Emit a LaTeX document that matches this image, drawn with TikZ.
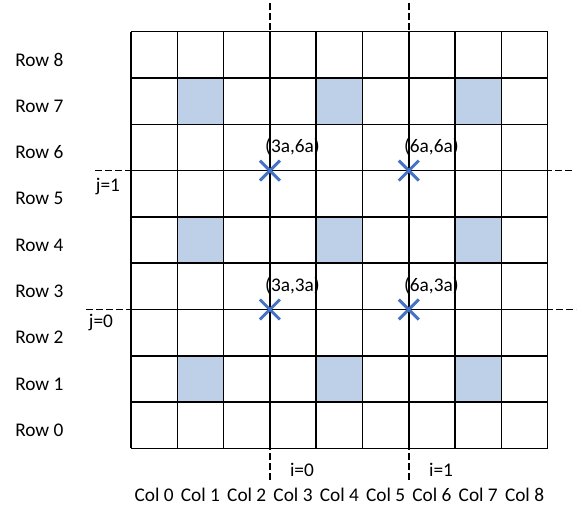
\documentclass[tikz,border=0pt]{standalone}
\usepackage{fontspec}
\setmainfont{Carlito}
\definecolor{cellblue}{RGB}{189,208,231}
\definecolor{xblue}{RGB}{68,114,196}
\begin{document}
\begin{tikzpicture}[x=0.75pt,y=-0.75pt,
  lbl/.style={font=\fontsize{14.5}{16}\selectfont, inner sep=0pt},
  gridline/.style={line width=1.1pt, black},
  dashline/.style={line width=1.1pt, black, dash pattern=on 5pt off 2.5pt},
  cross/.style={line width=2.2pt, xblue}]
\useasboundingbox (0,0) rectangle (582,508);
\def\gx{131}\def\gy{31.7}\def\cs{46.3}
% shaded cells
\foreach \c in {1,4,7}{\foreach \r in {7,4,1}{
  \fill[cellblue] (\gx+\c*\cs,\gy+8*\cs-\r*\cs) rectangle ++(\cs,\cs);}}
% grid
\foreach \i in {0,...,9}{
  \draw[gridline] (\gx+\i*\cs,\gy) -- (\gx+\i*\cs,\gy+9*\cs);
  \draw[gridline] (\gx,\gy+\i*\cs) -- (\gx+9*\cs,\gy+\i*\cs);}
% named points
\coordinate (p36) at (\gx+3*\cs,\gy+3*\cs);
\coordinate (p66) at (\gx+6*\cs,\gy+3*\cs);
\coordinate (p33) at (\gx+3*\cs,\gy+6*\cs);
\coordinate (p63) at (\gx+6*\cs,\gy+6*\cs);
\coordinate (v0t) at (\gx+3*\cs,3);
\coordinate (v0b) at (\gx+3*\cs,482);
\coordinate (v1t) at (\gx+6*\cs,3);
\coordinate (v1b) at (\gx+6*\cs,482);
\coordinate (h1l) at (95,\gy+3*\cs);
\coordinate (h1r) at (574,\gy+3*\cs);
\coordinate (h0l) at (86,\gy+6*\cs);
\coordinate (h0r) at (576,\gy+6*\cs);
% dashed lines
\draw[dashline] (v0t) -- (v0b);
\draw[dashline] (v1t) -- (v1b);
\draw[dashline] (h1l) -- (h1r);
\draw[dashline] (h0l) -- (h0r);
% crosses
\foreach \p in {p36,p66,p33,p63}{
  \draw[cross] ([shift={(-10,-10)}]\p) -- ([shift={(10,10)}]\p);
  \draw[cross] ([shift={(-10,10)}]\p) -- ([shift={(10,-10)}]\p);}
% coordinate labels
\node[lbl, anchor=west] (t36) at ([shift={(-5,-24)}]p36) {(3a,6a)};
\node[lbl, anchor=west] (t66) at ([shift={(-5,-24)}]p66) {(6a,6a)};
\node[lbl, anchor=west] (t33) at ([shift={(-5,-24)}]p33) {(3a,3a)};
\node[lbl, anchor=west] (t63) at ([shift={(-5,-24)}]p63) {(6a,3a)};
% j / i labels
\node[lbl] (j1) at (108,187) {j=1};
\node[lbl] (j0) at (101,322) {j=0};
\node[lbl] (i0) at (302,470) {i=0};
\node[lbl] (i1) at (441,470) {i=1};
% row labels
\foreach \r in {0,...,8}{
  \node[lbl, anchor=west] (row\r) at (15,\gy+8*\cs-\r*\cs+0.5*\cs+5) {Row \r};}
% column labels
\foreach \c in {0,...,8}{
  \node[lbl] (col\c) at (\gx+\c*\cs+0.5*\cs,495) {Col \c};}
\end{tikzpicture}
\end{document}
